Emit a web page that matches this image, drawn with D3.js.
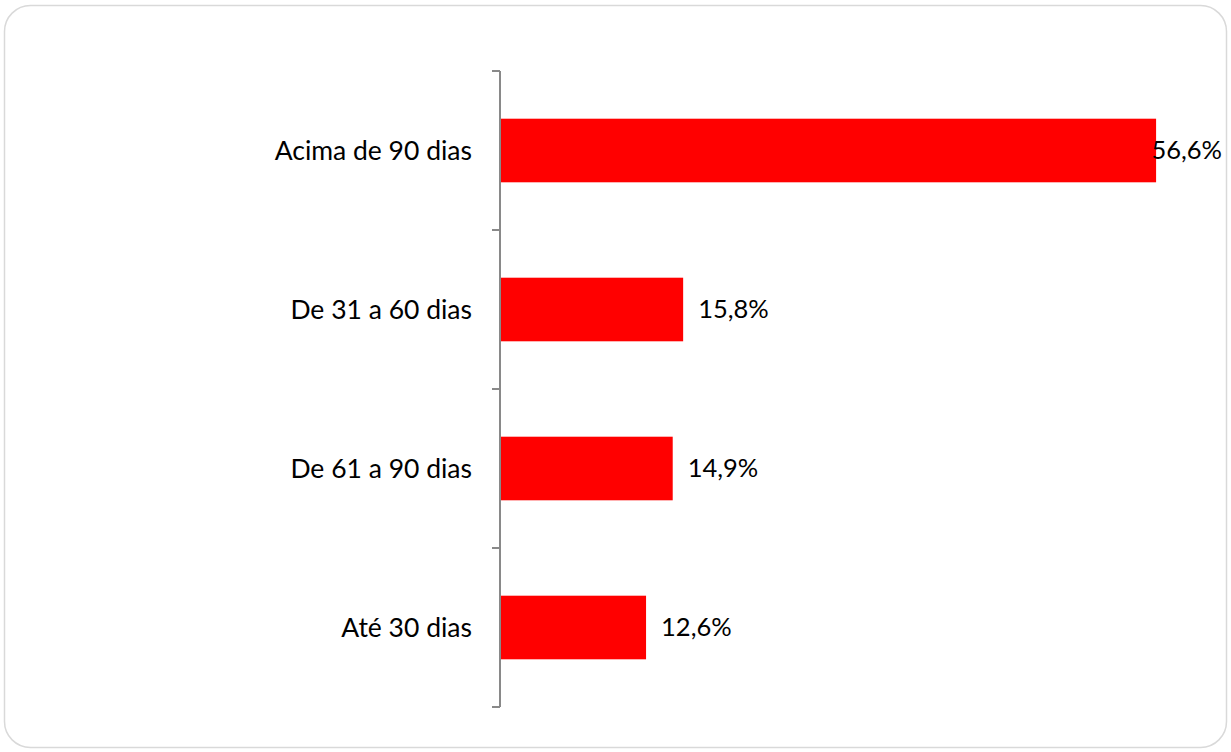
<!DOCTYPE html>
<html>
<head>
<meta charset="utf-8">
<script src="https://cdn.jsdelivr.net/npm/d3@7"></script>
<style>
  body { margin: 0; background: #fff; }
  svg { display: block; }
  text { font-family: Lato, "Open Sans", sans-serif; fill: #000; }
</style>
</head>
<body>
<div id="chart"></div>
<script>
// categories top to bottom and their shares (%)
var categories = ['Acima de 90 dias', 'De 31 a 60 dias', 'De 61 a 90 dias', 'Até 30 dias'];
var values = [56.6, 15.8, 14.9, 12.6];
var valueLabels = ['56,6%', '15,8%', '14,9%', '12,6%'];

var width = 1231, height = 752;

var svg = d3.select('#chart').append('svg')
    .attr('width', width)
    .attr('height', height);

// outer rounded frame
svg.append('rect')
    .attr('x', 4.5).attr('y', 5.5)
    .attr('width', 1222).attr('height', 742)
    .attr('rx', 26).attr('ry', 26)
    .attr('fill', '#fff')
    .attr('stroke', '#d9d9d9')
    .attr('stroke-width', 1.5);

var x = d3.scaleLinear()
    .domain([0, 60])
    .range([500, 1195.5]);

var y = d3.scaleBand()
    .domain(categories)
    .range([71, 707])
    .paddingInner(0.6)
    .paddingOuter(0.3);

var data = categories.map(function(c, i) {
  return { name: c, value: values[i], label: valueLabels[i] };
});

// bars
svg.selectAll('rect.bar')
    .data(data)
  .enter().append('rect')
    .attr('class', 'bar')
    .attr('x', x(0))
    .attr('y', function(d) { return y(d.name); })
    .attr('width', function(d) { return x(d.value) - x(0); })
    .attr('height', y.bandwidth())
    .attr('fill', '#ff0000');

// axis line with ticks at band edges
var axis = svg.append('g');
axis.append('line')
    .attr('x1', x(0)).attr('x2', x(0))
    .attr('y1', 71).attr('y2', 707)
    .attr('stroke', '#898989').attr('stroke-width', 2);

var edges = d3.range(categories.length + 1).map(function(i) {
  return y.range()[0] + i * y.step();
});
axis.selectAll('line.tick')
    .data(edges)
  .enter().append('line')
    .attr('class', 'tick')
    .attr('x1', x(0) - 8).attr('x2', x(0))
    .attr('y1', function(d) { return d; })
    .attr('y2', function(d) { return d; })
    .attr('stroke', '#898989').attr('stroke-width', 2);

// category labels
svg.selectAll('text.cat')
    .data(data)
  .enter().append('text')
    .attr('class', 'cat')
    .attr('x', 472)
    .attr('y', function(d) { return y(d.name) + y.bandwidth() / 2; })
    .attr('dy', '0.35em')
    .attr('text-anchor', 'end')
    .style('font-size', '26.5px')
    .text(function(d) { return d.name; });

// value labels, pushed back inside the frame if they would overflow
svg.selectAll('text.val')
    .data(data)
  .enter().append('text')
    .attr('class', 'val')
    .attr('x', function(d) { return x(d.value) + 15; })
    .attr('y', function(d) { return y(d.name) + y.bandwidth() / 2; })
    .attr('dy', '0.35em')
    .style('font-size', '25.5px')
    .text(function(d) { return d.label; })
    .each(function() {
      var bb = this.getBBox();
      if (bb.x + bb.width > 1222) {
        d3.select(this).attr('x', 1222).attr('text-anchor', 'end');
      }
    });
</script>
</body>
</html>
